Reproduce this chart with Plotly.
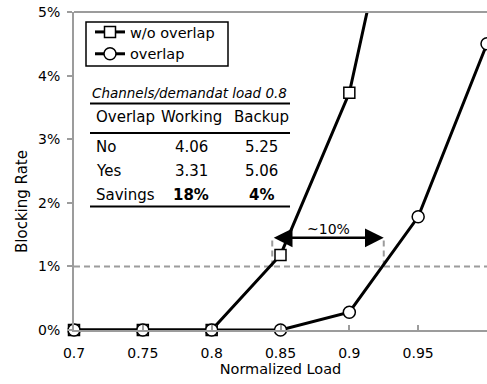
import plotly.graph_objects as go

# ---------------- data ----------------
load = [0.7, 0.75, 0.8, 0.85, 0.9, 0.95, 1.0]
wo_overlap_load = [0.7, 0.75, 0.8, 0.85, 0.9, 0.95]
wo_overlap_rate = [0.0, 0.0, 0.0, 1.18, 3.73, 8.66]      # % blocking
overlap_rate = [0.0, 0.0, 0.0, 0.0, 0.28, 1.78, 4.5]      # % blocking

x_ticks = [0.7, 0.75, 0.8, 0.85, 0.9, 0.95]
x_tick_labels = ["0.7", "0.75", "0.8", "0.85", "0.9", "0.95"]
y_ticks = [0, 1, 2, 3, 4, 5]
y_tick_labels = ["0%", "1%", "2%", "3%", "4%", "5%"]

threshold = 1.0                 # 1% blocking line
cross_wo = 0.844                # load where w/o overlap hits 1%
cross_ov = 0.925                # load where overlap hits 1%
arrow_level = 1.45
gap_label = "~10%"

table_title = "Channels/demandat load 0.8"
table_header = ["Overlap", "Working", "Backup"]
table_rows = [["No", "4.06", "5.25"],
              ["Yes", "3.31", "5.06"],
              ["Savings", "<b>18%</b>", "<b>4%</b>"]]

# ---------------- layout helpers ----------------
W, H = 487, 384
L, R, T, B = 74, 0, 12, 54
PW, PH = W - L - R, H - T - B

def fx(px):
    return (px - L) / PW

def fy(py):
    return (H - B - py) / PH

FONT = "DejaVu Sans"
GRAY = "#9c9c9c"
DASH = "6px,4px"

fig = go.Figure()
fig.add_trace(go.Scatter(
    x=wo_overlap_load, y=wo_overlap_rate, name="w/o overlap", mode="lines+markers",
    line=dict(color="black", width=3),
    marker=dict(symbol="square", size=11, color="white", line=dict(color="black", width=1.5)),
    cliponaxis=False))
fig.add_trace(go.Scatter(
    x=load, y=overlap_rate, name="overlap", mode="lines+markers",
    line=dict(color="black", width=3),
    marker=dict(symbol="circle", size=12, color="white", line=dict(color="black", width=1.5)),
    cliponaxis=False))

shapes = []
# 1% threshold line
shapes.append(dict(type="line", xref="paper", yref="y", x0=0, x1=1, y0=threshold, y1=threshold,
                   line=dict(color=GRAY, width=2, dash=DASH), layer="below"))
for xc in (cross_wo, cross_ov):
    shapes.append(dict(type="line", xref="x", yref="y", x0=xc, x1=xc, y0=threshold, y1=arrow_level,
                       line=dict(color=GRAY, width=2, dash=DASH), layer="below"))
# top frame line
shapes.append(dict(type="line", xref="paper", yref="paper", x0=0, x1=1, y0=1, y1=1,
                   line=dict(color=GRAY, width=2)))
# legend frame
shapes.append(dict(type="rect", xref="paper", yref="paper", x0=fx(86), x1=fx(228),
                   y0=fy(66), y1=fy(22), line=dict(color="black", width=1.5),
                   fillcolor="white", layer="below"))
# table rules
for py in (103.5, 133, 206.5):
    shapes.append(dict(type="line", xref="paper", yref="paper", x0=fx(90), x1=fx(290),
                       y0=fy(py), y1=fy(py), line=dict(color="black", width=1.8)))

annotations = []
# double-headed arrow
annotations.append(dict(x=cross_ov, y=arrow_level, ax=cross_wo, ay=arrow_level,
                        xref="x", yref="y", axref="x", ayref="y", text="",
                        showarrow=True, arrowhead=2, arrowside="end+start",
                        arrowsize=1.5, arrowwidth=2.5, arrowcolor="black",
                        standoff=0, startstandoff=0))
annotations.append(dict(x=(cross_wo + cross_ov) / 2, y=arrow_level, xref="x", yref="y",
                        text=gap_label, showarrow=False, yanchor="bottom", yshift=-1,
                        font=dict(family=FONT, size=14, color="black")))
# table title
annotations.append(dict(x=fx(90), y=fy(93), xref="paper", yref="paper", text="<i>" + table_title + "</i>",
                        showarrow=False, xanchor="left", yanchor="middle",
                        font=dict(family=FONT, size=13.5, color="black")))
col_x = [94, 191, 261]
row_y = [117, 147, 171, 195]
for r, row in enumerate([table_header] + table_rows):
    for c, txt in enumerate(row):
        annotations.append(dict(x=fx(col_x[c]), y=fy(row_y[r]), xref="paper", yref="paper",
                                text=txt, showarrow=False,
                                xanchor="left" if c == 0 else "center", yanchor="middle",
                                font=dict(family=FONT, size=15, color="black")))
# y axis title
annotations.append(dict(x=fx(22), y=fy(201), xref="paper", yref="paper", text="Blocking Rate",
                        textangle=-90, showarrow=False, xanchor="center", yanchor="middle",
                        font=dict(family=FONT, size=15, color="black")))

fig.update_layout(
    width=W, height=H,
    margin=dict(l=L, r=R, t=T, b=B),
    paper_bgcolor="white", plot_bgcolor="white",
    font=dict(family=FONT, size=14, color="black"),
    showlegend=True,
    legend=dict(x=fx(90), y=fy(16), xanchor="left", yanchor="top",
                bgcolor="rgba(0,0,0,0)", borderwidth=0,
                font=dict(family=FONT, size=14.5, color="black"),
                tracegroupgap=0, itemwidth=30),
    xaxis=dict(range=[0.7, 1.0], tickvals=x_ticks, ticktext=x_tick_labels,
               showgrid=False, zeroline=False, showline=True, linecolor=GRAY, linewidth=2,
               ticks="inside", ticklen=5, tickcolor=GRAY, tickwidth=2,
               ticklabelstandoff=9,
               title=dict(text="Normalized Load", font=dict(family=FONT, size=14.5), standoff=1),
               tickfont=dict(family=FONT, size=14)),
    yaxis=dict(range=[0, 5], tickvals=y_ticks, ticktext=y_tick_labels,
               showgrid=False, zeroline=False, showline=True, linecolor=GRAY, linewidth=2,
               ticks="outside", ticklen=5, tickcolor=GRAY, tickwidth=2,
               ticklabelstandoff=4,
               tickfont=dict(family=FONT, size=14)),
    shapes=shapes, annotations=annotations,
)

fig.write_html("out.html", config={"displayModeBar": False},
               post_script="document.body.style.margin='0px';")
